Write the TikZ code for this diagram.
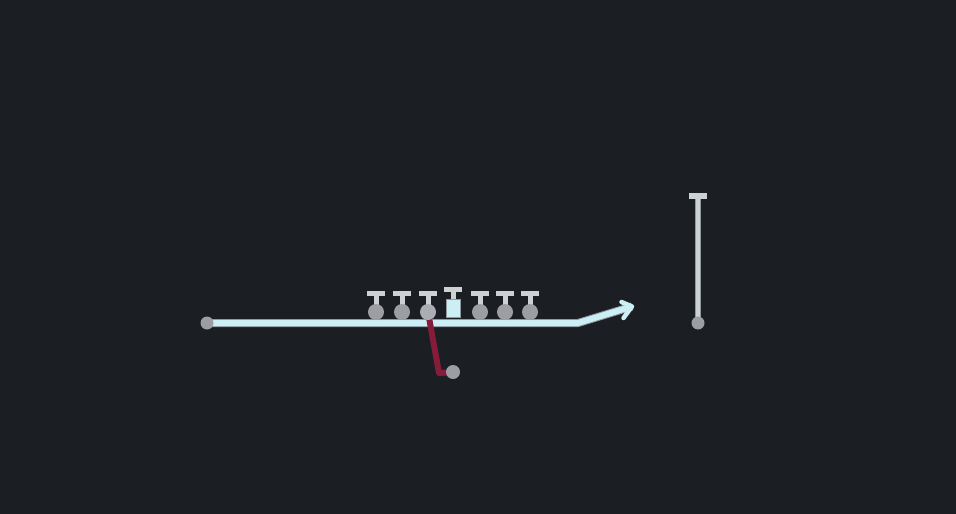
\documentclass[tikz,border=0pt]{standalone}
\usetikzlibrary{arrows.meta}
\definecolor{bg}{HTML}{1B1E23}
\definecolor{route}{HTML}{CBEFF5}
\definecolor{routeedge}{HTML}{8E9AA0}
\definecolor{tcol}{HTML}{CDD1D4}
\definecolor{dotcol}{HTML}{9C9EA4}
\definecolor{blockred}{HTML}{861B3A}
\tikzset{
  dot/.style={circle,fill=dotcol,inner sep=0pt,minimum size=13pt},
  pdot/.style={circle,fill=dotcol,inner sep=0pt,minimum size=16pt},
  tbar/.style={draw=none,fill=tcol},
  stem/.style={tcol,line width=5pt},
  routeline/.style={route,line width=6pt,line join=round},
  routeback/.style={routeedge,line width=8pt,line join=round},
}
\begin{document}
\begin{tikzpicture}[x=1pt,y=-1pt]
\fill[bg] (0,0) rectangle (956,514);
\useasboundingbox (0,0) rectangle (956,514);
% route line
\coordinate (s0) at (207,323);
\coordinate (bend) at (578,323);
\coordinate (tip) at (632,306.5);
\draw[routeback] (s0) -- (bend) -- (tip);
\draw[routeline] (s0) -- (bend) -- (tip);
\draw[route,line width=4.5pt,line cap=round,line join=round] (621.5,302) -- (tip) -- (623.5,318);
\node[dot] (start) at (s0) {};
% linemen
\foreach \n/\x in {p1/376,p2/402,p4/480,p5/505,p6/530}{
  \draw[stem] (\x,293) -- (\x,310);
  \fill[tbar] (\x-9,290.5) rectangle (\x+9,295.5);
  \node[pdot] (\n) at (\x,312) {};
}
% blocker with red path
\coordinate (b0) at (453,372);
\coordinate (p3c) at (428,312);
\coordinate (rb) at (439,373);
\draw[stem] (428,293) -- (428,310);
\fill[tbar] (419,290.5) rectangle (437,295.5);
\draw[blockred,line width=6pt,line join=round] (p3c) -- (rb) -- (b0);
\node[dot,minimum size=14pt] (ball) at (b0) {};
\node[pdot,fill=dotcol!85!white] (p3) at (p3c) {};
% center
\draw[stem] (453,289) -- (453,302);
\fill[tbar] (444,286.5) rectangle (462,291.5);
\node[draw=routeedge,fill=route,minimum width=14pt,minimum height=18pt,inner sep=0pt] (c) at (453,308.5) {};
% right receiver
\coordinate (w0) at (698,323);
\coordinate (wrtop) at (698,196);
\draw[routeedge,line width=6.5pt] (w0) -- (wrtop);
\draw[tcol,line width=4.5pt] (w0) -- (wrtop);
\fill[tbar] (689,193) rectangle (707,199);
\node[dot] (wr) at (w0) {};
\end{tikzpicture}
\end{document}
